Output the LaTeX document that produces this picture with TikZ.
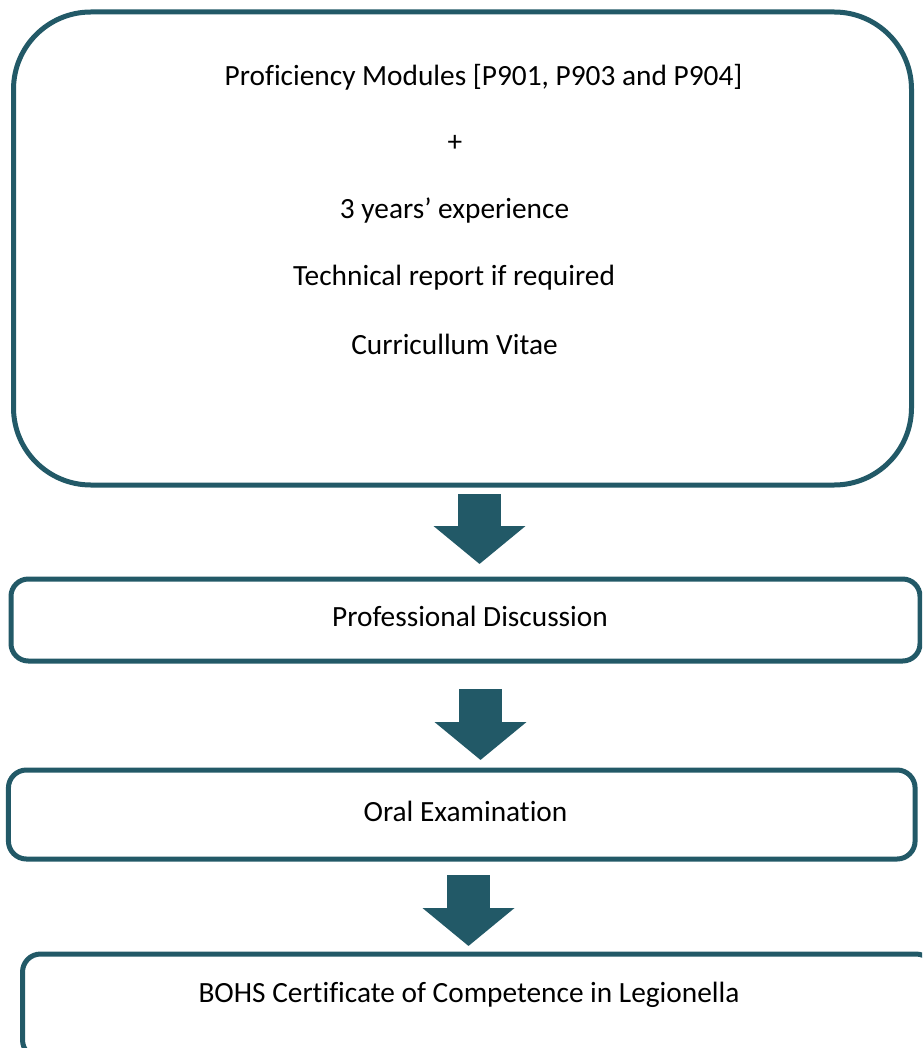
\documentclass[tikz,border=0pt]{standalone}
\usepackage{fontspec}
\setmainfont{Carlito}[Ligatures=CommonOff]
\usetikzlibrary{arrows.meta, positioning}
\definecolor{boxteal}{RGB}{34,89,103}

\begin{document}
\begin{tikzpicture}[x=0.75pt, y=-0.75pt,
  box/.style={draw=boxteal, line width=3.75pt, rectangle, inner sep=0pt},
  txt/.style={anchor=base, inner sep=0pt, font=\fontsize{22}{26}\selectfont},
  flow/.style={draw=boxteal, line width=32.25pt, line cap=butt, -{Triangle[width=67.5pt, length=28.5pt]}}]

\useasboundingbox (0,0) rectangle (922,1048);
\clip (0,0) rectangle (922,1048);

% --- Requirements box ---
\node[box, rounded corners=58pt, minimum width=673.5pt, minimum height=354.75pt] (req) at (462.5,248.5) {};
\node[txt] (prof) at (483.5,86) {Proficiency Modules [P901, P903 and P904]};
\node[txt] (plus) at (455,152) {+};
\node[txt] (exp) at (454.5,219) {3 years’ experience};
\node[txt] (tech) at (454,286) {Technical report if required};
\node[txt] (cv) at (454.5,354) {Curricullum Vitae};

% --- Professional discussion ---
\node[box, rounded corners=13pt, minimum width=681.75pt, minimum height=61.5pt] (disc) at (465.5,620) {};
\node[txt] (disctxt) at (470,626) {Professional Discussion};

% --- Oral examination ---
\node[box, rounded corners=13.5pt, minimum width=680pt, minimum height=66.75pt] (oral) at (461.75,814.5) {};
\node[txt] (oraltxt) at (465.5,821) {Oral Examination};

% --- Certificate (runs off the page) ---
\node[box, rounded corners=13.5pt, minimum width=683.6pt, minimum height=78pt] (cert) at (478.25,1006) {};
\node[txt] (certtxt) at (469,1002) {BOHS Certificate of Competence in Legionella};

% --- Block arrows ---
\coordinate (f1a) at (479.5,494);
\coordinate (f1b) at (479.5,564);
\coordinate (f2a) at (480.5,689);
\coordinate (f2b) at (480.5,760);
\coordinate (f3a) at (468.5,875);
\coordinate (f3b) at (468.5,946);
\draw[flow] (f1a) -- (f1b);
\draw[flow] (f2a) -- (f2b);
\draw[flow] (f3a) -- (f3b);

\end{tikzpicture}
\end{document}
